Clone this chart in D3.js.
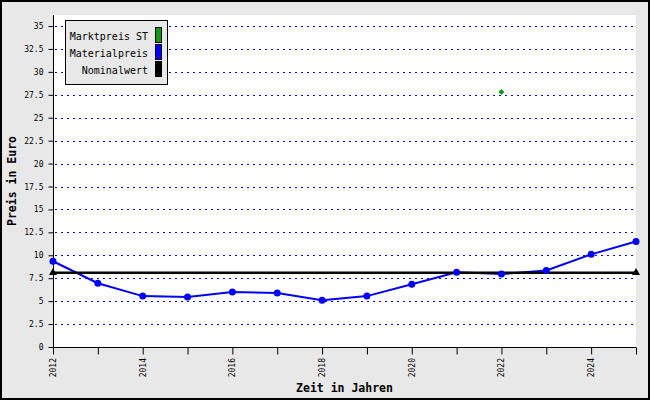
<!DOCTYPE html>
<html><head><meta charset="utf-8">
<script src="https://cdn.jsdelivr.net/npm/d3@7/dist/d3.min.js"></script>
<style>body{margin:0;padding:0;}svg{display:block;}</style>
</head><body>
<svg id="c" width="650" height="400"></svg>
<script>
const years = [2012,2013,2014,2015,2016,2017,2018,2019,2020,2021,2022,2023,2024,2025];
const material = [9.35,6.95,5.55,5.45,6.0,5.9,5.1,5.55,6.85,8.15,7.95,8.35,10.1,11.5];
const nominalYears = [2012,2025];
const nominalValues = [8.1,8.1];
const marketYears = [2022];
const marketValues = [27.8];
const yTicks = [0,2.5,5,7.5,10,12.5,15,17.5,20,22.5,25,27.5,30,32.5,35];
const xLabelYears = [2012,2014,2016,2018,2020,2022,2024];
const legendLabels = ["Marktpreis ST","Materialpreis","Nominalwert"];
const legendColors = ["#119911","#0000ff","#000000"];

const svg = d3.select("#c");
const W=650,H=400;
const L=53,R=636,T=15,B=347;
const mono = "'DejaVu Sans Mono', monospace";

svg.append("rect").attr("x",0).attr("y",0).attr("width",W).attr("height",H).attr("fill","#e8e8e8");
svg.append("rect").attr("x",L).attr("y",T).attr("width",R-L).attr("height",B-T).attr("fill","#ffffff");

const x = d3.scaleLinear().domain([2012,2025]).range([L,R]);
const y = d3.scaleLinear().domain([0,35]).range([B,26]);

// grid
svg.append("g").selectAll("line").data(yTicks.filter(d=>d>0)).join("line")
  .attr("x1",L+2).attr("x2",R-2).attr("y1",d=>Math.round(y(d))+0.5).attr("y2",d=>Math.round(y(d))+0.5)
  .attr("stroke","#0000ff").attr("stroke-width",1).attr("stroke-dasharray","2,4");

// y axis
const yAxis = svg.append("g").attr("transform",`translate(${L+0.5},0)`)
  .call(d3.axisLeft(y).tickValues(yTicks).tickSize(5).tickPadding(5)
    .tickFormat(d=> (d%1? d.toFixed(1): String(d))));
yAxis.select(".domain").remove();
yAxis.append("line").attr("x1",0).attr("x2",0).attr("y1",T).attr("y2",B).attr("stroke","#000");
yAxis.selectAll("text").attr("font-family",mono).attr("font-size","8px").attr("fill","#000");
yAxis.selectAll(".tick line").attr("stroke","#000");

// x axis
const xAxis = svg.append("g").attr("transform",`translate(0,${B+0.5})`)
  .call(d3.axisBottom(x).tickValues(years).tickSize(7).tickFormat(""));
xAxis.select(".domain").remove();
xAxis.append("line").attr("x1",L).attr("x2",R).attr("y1",0).attr("y2",0).attr("stroke","#000");
xAxis.selectAll(".tick line").attr("stroke","#000");
svg.append("g").selectAll("text").data(xLabelYears).join("text")
  .attr("transform",d=>`translate(${x(d)+3},${B+11}) rotate(-90)`)
  .attr("text-anchor","end").attr("font-family",mono).attr("font-size","8px").attr("fill","#000")
  .text(d=>d);

// material line
const line = d3.line().x((d,i)=>x(years[i])).y(d=>y(d));
svg.append("path").datum(material).attr("d",line).attr("fill","none")
  .attr("stroke","#0000ff").attr("stroke-width",2);

// nominal line
const nline = d3.line().x((d,i)=>x(nominalYears[i])).y(d=>y(d));
svg.append("path").datum(nominalValues).attr("d",nline).attr("fill","none")
  .attr("stroke","#000").attr("stroke-width",2.5);

// material markers
svg.append("g").selectAll("circle").data(material).join("circle")
  .attr("cx",(d,i)=>x(years[i])).attr("cy",d=>y(d)).attr("r",3.5).attr("fill","#0000ff");

// nominal triangles
svg.append("g").selectAll("path").data(nominalValues).join("path")
  .attr("transform",(d,i)=>`translate(${x(nominalYears[i])},${y(d)})`)
  .attr("d",d3.symbol().type(d3.symbolTriangle).size(28)).attr("fill","#000");

// market diamond
svg.append("g").selectAll("path").data(marketValues).join("path")
  .attr("transform",(d,i)=>`translate(${x(marketYears[i])},${y(d)}) rotate(45)`)
  .attr("d",d3.symbol().type(d3.symbolSquare).size(18)).attr("fill","#119911");

// axis titles
svg.append("text").attr("x",(L+R)/2).attr("y",392).attr("text-anchor","middle")
  .attr("font-family",mono).attr("font-weight","bold").attr("font-size","11.5px").text("Zeit in Jahren");
svg.append("text").attr("transform",`translate(16,${(T+B)/2}) rotate(-90)`).attr("text-anchor","middle")
  .attr("font-family",mono).attr("font-weight","bold").attr("font-size","11.5px").text("Preis in Euro");

// legend
const lg = svg.append("g");
lg.append("rect").attr("x",65.5).attr("y",20.5).attr("width",102).attr("height",64)
  .attr("fill","#e8e8e8").attr("stroke","#000");
legendLabels.forEach((t,i)=>{
  lg.append("text").attr("x",148).attr("y",40+i*17).attr("text-anchor","end")
    .attr("font-family",mono).attr("font-size","10px").attr("fill","#000").text(t);
  lg.append("rect").attr("x",155.5).attr("y",27.5+i*17).attr("width",6).attr("height",15)
    .attr("fill",legendColors[i]).attr("stroke","#000");
});

// outer frame
svg.append("rect").attr("x",1).attr("y",1).attr("width",W-2).attr("height",H-2)
  .attr("fill","none").attr("stroke","#000").attr("stroke-width",2);
</script>
</body></html>
